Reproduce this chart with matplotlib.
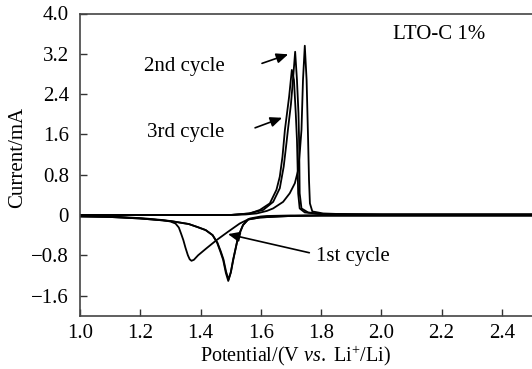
import matplotlib
matplotlib.use("Agg")
import matplotlib.pyplot as plt

plt.rcParams['font.family'] = ['Liberation Serif', 'DejaVu Serif']
plt.rcParams['mathtext.fontset'] = 'custom'
plt.rcParams['mathtext.rm'] = 'Liberation Serif'
plt.rcParams['mathtext.it'] = 'Liberation Serif:italic'

# ---- data ----
# cycle 1
c1_an_x = [1.0, 1.2, 1.4, 1.5, 1.55, 1.586, 1.62, 1.641, 1.674, 1.696, 1.713, 1.724, 1.730, 1.735,
           1.740, 1.746, 1.752, 1.757, 1.760, 1.763, 1.771, 1.807, 1.9, 2.2, 2.5]
c1_an_y = [0.0, 0.0, 0.0, 0.0, 0.01, 0.03, 0.08, 0.13, 0.26, 0.43, 0.63, 0.89, 1.29, 1.69,
           2.68, 3.36, 2.68, 1.49, 0.69, 0.23, 0.07, 0.03, 0.01, 0.01, 0.01]
c1_ca_x = [2.5, 2.0, 1.8, 1.7, 1.62, 1.6, 1.564, 1.53, 1.492, 1.453, 1.42, 1.392, 1.378, 1.370,
           1.364, 1.358, 1.350, 1.343, 1.336, 1.328, 1.317, 1.300, 1.273, 1.218, 1.107, 1.0]
c1_ca_y = [-0.01, -0.01, -0.01, -0.01, -0.02, -0.03, -0.07, -0.17, -0.33, -0.50, -0.66, -0.80, -0.89, -0.91,
           -0.88, -0.80, -0.65, -0.50, -0.38, -0.25, -0.17, -0.13, -0.10, -0.07, -0.03, -0.02]
# cycle 2
c2_an_x = [1.0, 1.3, 1.5, 1.56, 1.608, 1.641, 1.663, 1.676, 1.685, 1.690, 1.700, 1.707, 1.714, 1.720,
           1.725, 1.727, 1.728, 1.729, 1.735, 1.757, 1.8, 2.0, 2.5]
c2_an_y = [0.0, 0.0, 0.0, 0.03, 0.10, 0.26, 0.53, 0.96, 1.42, 1.69, 2.2, 2.7, 3.24, 2.68,
           2.02, 1.49, 1.0, 0.43, 0.13, 0.05, 0.02, 0.01, 0.01]
c2_ca_x = [2.5, 2.0, 1.8, 1.7, 1.66, 1.597, 1.558, 1.541, 1.525, 1.508, 1.5, 1.492, 1.484, 1.475,
           1.466, 1.455, 1.44, 1.417, 1.39, 1.361, 1.3, 1.2, 1.1, 1.0]
c2_ca_y = [-0.01, -0.01, -0.01, -0.02, -0.03, -0.05, -0.09, -0.20, -0.43, -0.89, -1.15, -1.31, -1.15, -0.89,
           -0.73, -0.55, -0.40, -0.30, -0.24, -0.18, -0.12, -0.07, -0.04, -0.03]
# cycle 3
c3_an_x = [1.0, 1.3, 1.5, 1.564, 1.597, 1.630, 1.652, 1.663, 1.672, 1.680, 1.694, 1.703, 1.710, 1.716,
           1.720, 1.722, 1.724, 1.729, 1.746, 1.8, 2.0, 2.5]
c3_an_y = [0.0, 0.0, 0.0, 0.03, 0.10, 0.23, 0.50, 0.76, 1.16, 1.69, 2.35, 2.88, 2.68, 2.02,
           1.49, 1.0, 0.43, 0.13, 0.05, 0.02, 0.01, 0.01]
c3_ca_x = [2.5, 2.0, 1.8, 1.7, 1.66, 1.597, 1.558, 1.541, 1.525, 1.509, 1.501, 1.493, 1.485, 1.476,
           1.467, 1.456, 1.44, 1.417, 1.39, 1.361, 1.3, 1.2, 1.1, 1.0]
c3_ca_y = [-0.01, -0.01, -0.01, -0.02, -0.03, -0.05, -0.09, -0.20, -0.43, -0.88, -1.13, -1.28, -1.13, -0.88,
           -0.72, -0.55, -0.40, -0.30, -0.24, -0.18, -0.12, -0.07, -0.04, -0.03]

x_ticks = [1.0, 1.2, 1.4, 1.6, 1.8, 2.0, 2.2, 2.4]
x_ticklabels = ['1.0', '1.2', '1.4', '1.6', '1.8', '2.0', '2.2', '2.4']
y_ticks = [-1.6, -0.8, 0, 0.8, 1.6, 2.4, 3.2, 4.0]
y_ticklabels = ['\u22121.6', '\u22120.8', '0', '0.8', '1.6', '2.4', '3.2', '4.0']

W, H = 532, 369
fig = plt.figure(figsize=(W / 100, H / 100), dpi=100)
ax = fig.add_axes([80 / W, 1 - 315.7 / H, (W - 80) / W, (315.7 - 13.5) / H])

lw = 1.3
for xs, ys in [(c1_an_x, c1_an_y), (c1_ca_x, c1_ca_y), (c2_an_x, c2_an_y), (c2_ca_x, c2_ca_y),
               (c3_an_x, c3_an_y), (c3_ca_x, c3_ca_y)]:
    ax.plot(xs, ys, color='black', lw=lw, solid_joinstyle='round')

ax.set_xlim(1.0, 2.5)
ax.set_ylim(-2.0, 4.0)
ax.set_xticks(x_ticks)
ax.set_xticklabels(x_ticklabels)
ax.set_yticks(y_ticks)
ax.set_yticklabels(y_ticklabels)
ax.tick_params(direction='in', length=5, width=1.0, labelsize=15, color='#333333')
ax.tick_params(axis='y', pad=8)
ax.tick_params(axis='x', pad=6)
for s in ['left', 'bottom', 'top']:
    ax.spines[s].set_linewidth(1.2)
    ax.spines[s].set_color('#444444')
ax.spines['right'].set_visible(False)

ax.set_xlabel(r'Potential/(V $\it{vs.}$ Li$^{+}$/Li)', fontsize=14.5)
ax.xaxis.set_label_coords((295 - 80) / (W - 80), -0.092)
ax.set_ylabel('Current/mA', fontsize=15)
ax.yaxis.set_label_coords((27 - 80) / (W - 80), 0.5225)

ax.text(2.04, 3.59, 'LTO-C 1%', fontsize=15, va='center', ha='left')
ax.text(1.212, 2.94, '2nd cycle', fontsize=15, va='center', ha='left')
ax.text(1.222, 1.64, '3rd cycle', fontsize=15, va='center', ha='left')
ax.text(1.783, -0.82, '1st cycle', fontsize=15, va='center', ha='left')

arrow_kw = dict(arrowstyle='-|>,head_length=0.7,head_width=0.3', color='black', lw=1.2, shrinkA=0, shrinkB=0)
ax.annotate('', xy=(1.691, 3.19), xytext=(1.604, 3.01), arrowprops=arrow_kw)
ax.annotate('', xy=(1.671, 1.93), xytext=(1.581, 1.73), arrowprops=arrow_kw)
ax.annotate('', xy=(1.491, -0.38), xytext=(1.761, -0.75), arrowprops=arrow_kw)

fig.savefig('out.png', dpi=100)
